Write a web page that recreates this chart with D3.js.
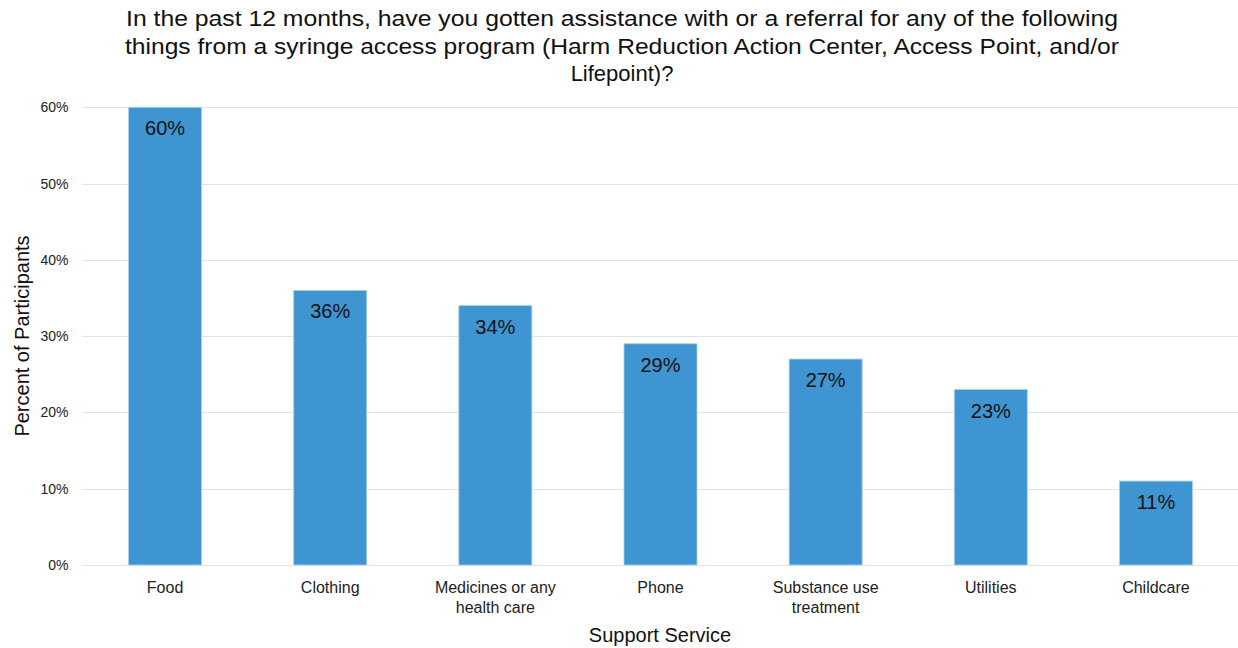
<!DOCTYPE html>
<html>
<head>
<meta charset="utf-8">
<script src="https://cdn.jsdelivr.net/npm/d3@7"></script>
<style>
  body { margin: 0; background: #fff; }
  svg { font-family: "Liberation Sans", Arial, sans-serif; }
</style>
</head>
<body>
<svg id="chart" width="1238" height="648"></svg>
<script>
var categories = [
    ["Food"],
    ["Clothing"],
    ["Medicines or any", "health care"],
    ["Phone"],
    ["Substance use", "treatment"],
    ["Utilities"],
    ["Childcare"]
];
var values = [0.60, 0.36, 0.34, 0.29, 0.27, 0.23, 0.11];
var yTicks = [0, 0.1, 0.2, 0.3, 0.4, 0.5, 0.6];
var titleLines = [
    "In the past 12 months, have you gotten assistance with or a referral for any of the following",
    "things from a syringe access program (Harm Reduction Action Center, Access Point, and/or",
    "Lifepoint)?"
];

var svg = d3.select('#chart');
var plotLeft = 82.5, plotRight = 1238.5, plotTop = 107.3, plotBottom = 565;

var x = d3.scaleBand().domain(d3.range(values.length)).range([plotLeft, plotRight]).paddingInner(0.558).paddingOuter(0.279);
var y = d3.scaleLinear().domain([0, 0.6]).range([plotBottom, plotTop]);
var fmt = d3.format('.0%');

// title
svg.append('g').selectAll('text').data(titleLines).enter().append('text')
    .attr('x', 622).attr('y', function(d, i) { return 26 + i * 27.5; })
    .attr('text-anchor', 'middle').attr('font-size', 22).attr('fill', '#111')
    .attr('textLength', function(d, i) { return i == 0 ? 992 : (i == 1 ? 994 : null); })
    .attr('lengthAdjust', 'spacingAndGlyphs')
    .text(function(d) { return d; });

// gridlines
svg.append('g').selectAll('line').data(yTicks).enter().append('line')
    .attr('x1', plotLeft).attr('x2', plotRight)
    .attr('y1', function(d) { return Math.round(y(d)) + 0.5; })
    .attr('y2', function(d) { return Math.round(y(d)) + 0.5; })
    .attr('stroke', '#e3e3e3').attr('stroke-width', 1);

// y axis
var yAxis = svg.append('g').attr('transform', 'translate(' + (plotLeft - 14) + ',0)')
    .call(d3.axisLeft(y).tickValues(yTicks).tickFormat(fmt).tickSize(0).tickPadding(0));
yAxis.select('.domain').remove();
yAxis.selectAll('text').attr('font-size', 14).attr('fill', '#222').attr('font-family', 'Liberation Sans, Arial, sans-serif');

// bars
svg.append('g').selectAll('rect').data(values).enter().append('rect')
    .attr('x', function(d, i) { return x(i); })
    .attr('width', x.bandwidth())
    .attr('y', function(d) { return y(d); })
    .attr('height', function(d) { return plotBottom - y(d); })
    .attr('fill', '#3e95d1').attr('stroke', '#a9d0ec').attr('stroke-width', 0.8);

// value labels
svg.append('g').selectAll('text').data(values).enter().append('text')
    .attr('x', function(d, i) { return x(i) + x.bandwidth() / 2; })
    .attr('y', function(d) { return y(d) + 28; })
    .attr('text-anchor', 'middle').attr('font-size', 20).attr('fill', '#111')
    .text(function(d) { return fmt(d); });

// category labels
var cat = svg.append('g').selectAll('text').data(categories).enter().append('text')
    .attr('x', function(d, i) { return x(i) + x.bandwidth() / 2; })
    .attr('y', 593).attr('text-anchor', 'middle').attr('font-size', 16).attr('fill', '#222');
cat.selectAll('tspan').data(function(d) { return d; }).enter().append('tspan')
    .attr('x', function() { return d3.select(this.parentNode).attr('x'); })
    .attr('dy', function(d, i) { return i == 0 ? 0 : 20; })
    .text(function(d) { return d; });

// axis titles
svg.append('text').attr('x', 660).attr('y', 642).attr('text-anchor', 'middle')
    .attr('font-size', 20).attr('fill', '#111').text('Support Service');
svg.append('text').attr('transform', 'translate(29,336) rotate(-90)').attr('text-anchor', 'middle')
    .attr('font-size', 20).attr('fill', '#111').text('Percent of Participants');
</script>
</body>
</html>
